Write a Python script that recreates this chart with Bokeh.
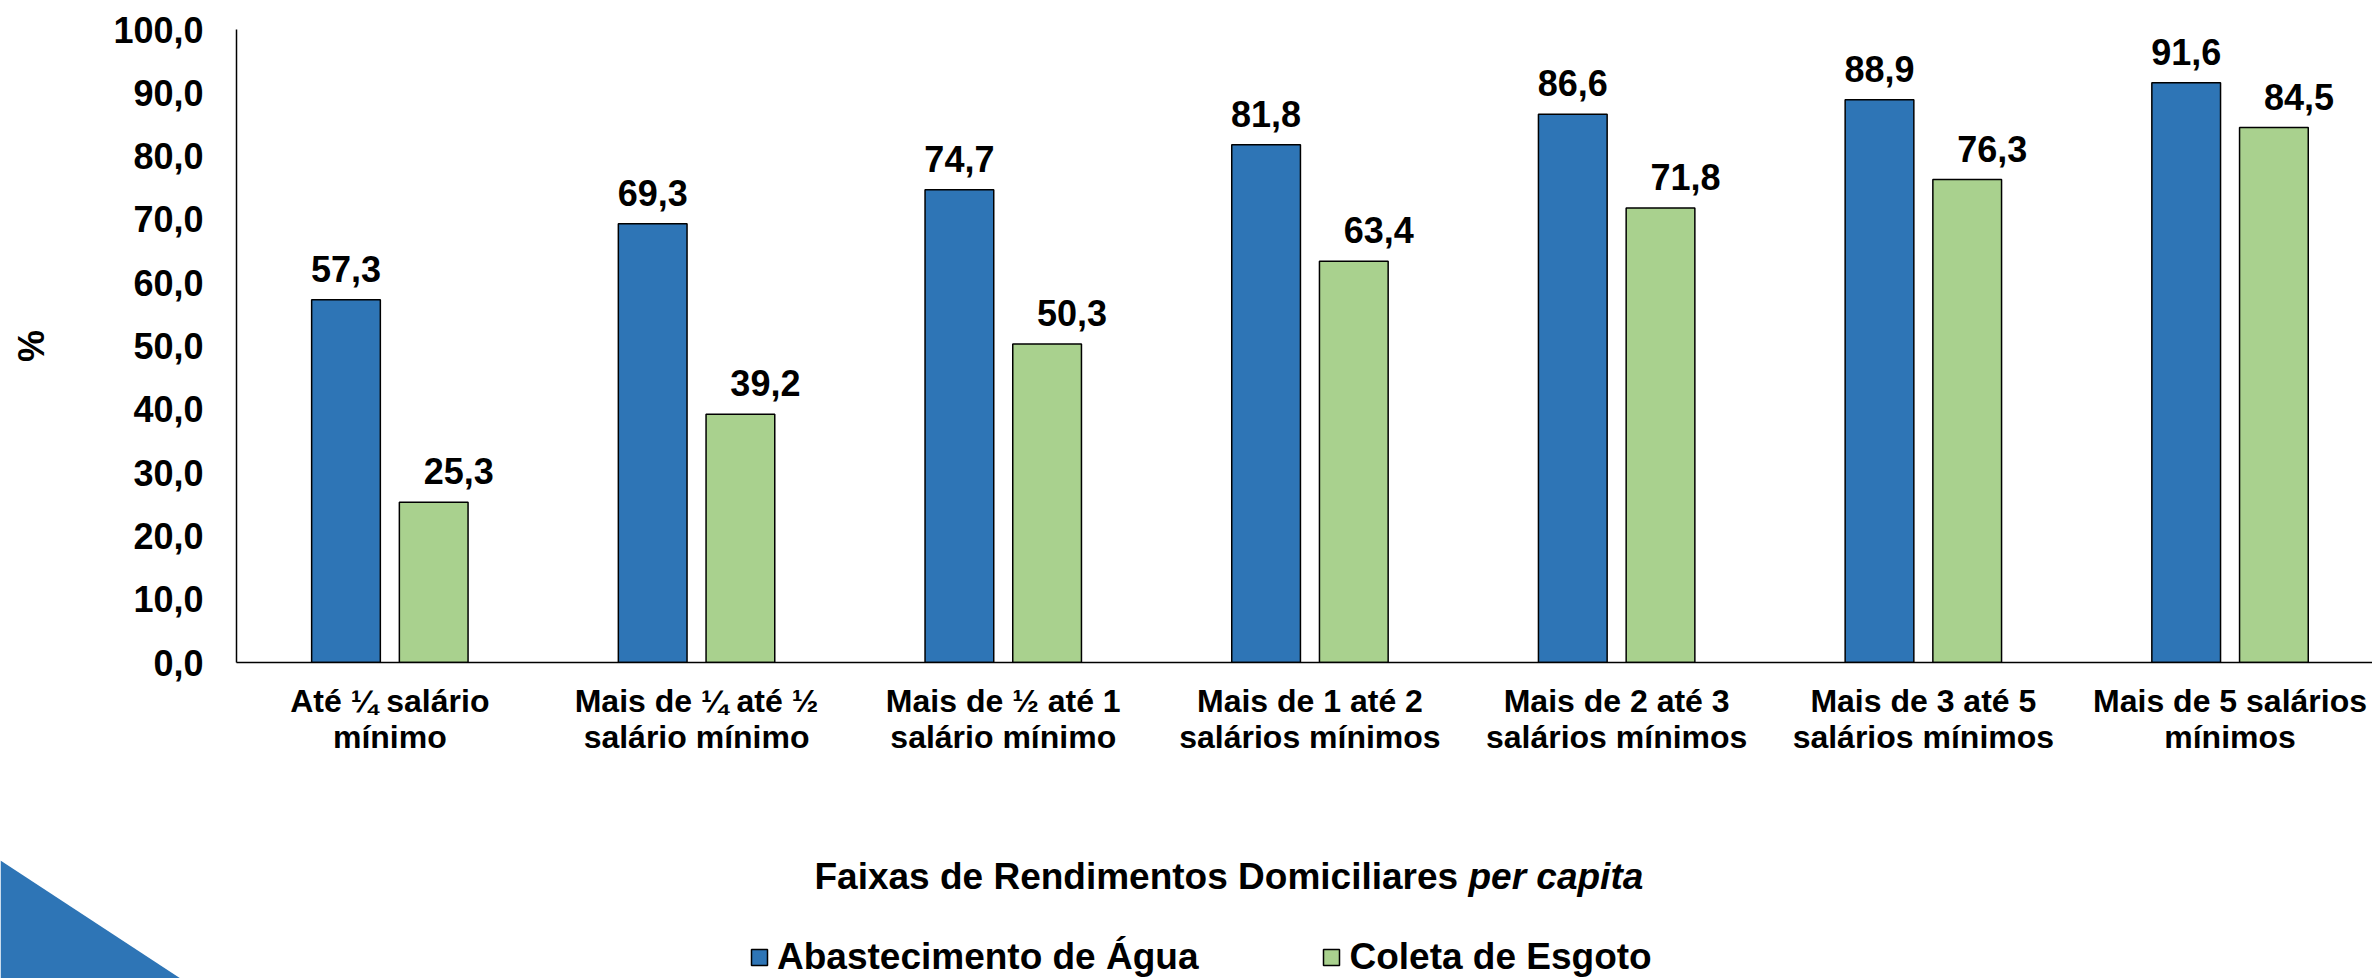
from bokeh.plotting import figure
from bokeh.layouts import column
from bokeh.models import (Range1d, FixedTicker, Label, Legend, LegendItem,
                          PolyAnnotation, ColumnDataSource)
from bokeh.core.properties import value
from bokeh.embed import file_html
from bokeh.resources import INLINE

# ---------------- data ----------------
categories = [
    "Até ¼ salário\nmínimo",
    "Mais de ¼ até ½\nsalário mínimo",
    "Mais de ½ até 1\nsalário mínimo",
    "Mais de 1 até 2\nsalários mínimos",
    "Mais de 2 até 3\nsalários mínimos",
    "Mais de 3 até 5\nsalários mínimos",
    "Mais de 5 salários\nmínimos",
]
agua = [57.3, 69.3, 74.7, 81.8, 86.6, 88.9, 91.6]
esgoto = [25.3, 39.2, 50.3, 63.4, 71.8, 76.3, 84.5]
series_names = ["Abastecimento de Água", "Coleta de Esgoto"]
y_ticks = [0, 10, 20, 30, 40, 50, 60, 70, 80, 90, 100]
x_title_main = "Faixas de Rendimentos Domiciliares "
x_title_italic = "per capita"
y_title = "%"

# ---------------- style / layout ----------------
BLUE = "#2E75B6"
GREEN = "#A9D18E"
FONT = "Liberation Sans"
W = 2372
H1, H2 = 800, 178
LEFT, TOP, BOTTOM = 236, 29, 662
GW = 306.7                      # pixel width of one category slot
PPU = (BOTTOM - TOP) / 100.0    # pixels per y unit
BAR_W = 0.224
OFF = 0.143
LABEL_GAP = 31                  # px between bar top and value label centre


def fmt(v):
    return f"{v:.1f}".replace(".", ",")


n = len(categories)
centers = [i + 0.5 for i in range(n)]
x_agua = [c - OFF for c in centers]
x_esg = [c + OFF for c in centers]

p = figure(width=W, height=H1,
           x_range=Range1d(0, (W - LEFT) / GW), y_range=Range1d(0, 100),
           output_backend="svg", toolbar_location=None,
           min_border_left=LEFT, min_border_right=0,
           min_border_top=TOP, min_border_bottom=H1 - BOTTOM)
p.frame_align = False
p.outline_line_color = None
p.grid.visible = False
p.background_fill_color = "white"
p.border_fill_color = "white"

src_a = ColumnDataSource(dict(x=x_agua, top=agua,
                              ly=[v + LABEL_GAP / PPU for v in agua],
                              lab=[fmt(v) for v in agua]))
src_e = ColumnDataSource(dict(x=x_esg, top=esgoto,
                              ly=[v + LABEL_GAP / PPU for v in esgoto],
                              lab=[fmt(v) for v in esgoto]))

r_a = p.vbar(x="x", top="top", width=BAR_W, source=src_a,
             fill_color=BLUE, line_color="black", line_width=1.5)
r_e = p.vbar(x="x", top="top", width=BAR_W, source=src_e,
             fill_color=GREEN, line_color="black", line_width=1.5)

common = dict(text_font=value(FONT), text_font_style="bold",
              text_font_size="36px", text_color="black",
              text_align="center", text_baseline="middle")
p.text(x="x", y="ly", text="lab", source=src_a, **common)
p.text(x="x", y="ly", text="lab", source=src_e, x_offset=25, **common)

# axes
xa = p.xaxis[0]
xa.ticker = FixedTicker(ticks=centers)
xa.major_label_overrides = {c: lab for c, lab in zip(centers, categories)}
xa.major_tick_out = 0
xa.major_tick_in = 0
xa.minor_tick_line_color = None
xa.axis_line_color = "black"
xa.axis_line_width = 1.5
xa.major_label_standoff = 20
xa.major_label_text_font = FONT
xa.major_label_text_font_style = "bold"
xa.major_label_text_font_size = "32px"
xa.major_label_text_color = "black"
xa.major_label_text_line_height = 1.0

ya = p.yaxis[0]
ya.ticker = FixedTicker(ticks=y_ticks)
ya.major_label_overrides = {t: fmt(t) for t in y_ticks}
ya.major_tick_out = 0
ya.major_tick_in = 0
ya.minor_tick_line_color = None
ya.axis_line_color = "black"
ya.axis_line_width = 1.5
ya.major_label_standoff = 33
ya.major_label_text_font = FONT
ya.major_label_text_font_style = "bold"
ya.major_label_text_font_size = "36px"
ya.major_label_text_color = "black"
ya.axis_label = y_title
ya.axis_label_text_font = FONT
ya.axis_label_text_font_style = "bold"
ya.axis_label_text_font_size = "36px"
ya.axis_label_text_color = "black"
ya.axis_label_standoff = 58

# ---------------- lower panel: axis title, legend, decoration ----------------
p2 = figure(width=W, height=H2, x_range=Range1d(0, W), y_range=Range1d(0, H2),
            output_backend="svg", toolbar_location=None,
            x_axis_type=None, y_axis_type=None,
            min_border_left=0, min_border_right=0,
            min_border_top=0, min_border_bottom=0)
p2.frame_align = False
p2.outline_line_color = None
p2.grid.visible = False
p2.background_fill_color = "white"
p2.border_fill_color = "white"

# decorative triangle bottom-left (panel pixels, measured from panel top)
tri_top, tri_right = 60, 180
p2.add_layout(PolyAnnotation(xs=[0, 0, tri_right],
                             ys=[H2 - tri_top, 0, 0],
                             fill_color=BLUE, fill_alpha=1.0, line_color=None))

title_x, title_mid = 814, 76
bold_w = 654
p2.add_layout(Label(x=title_x, y=H2 - title_mid, text=x_title_main,
                    text_font=FONT, text_font_style="bold",
                    text_font_size="37px", text_color="black",
                    text_baseline="middle"))
p2.add_layout(Label(x=title_x + bold_w, y=H2 - title_mid, text=x_title_italic,
                    text_font=FONT, text_font_style="bold italic",
                    text_font_size="37px", text_color="black",
                    text_baseline="middle"))

# legend proxies (same styling as the bars, not drawn themselves)
g_a = p2.vbar(x=[0], top=[0], width=1,
              fill_color=BLUE, line_color="black", line_width=1.5)
g_e = p2.vbar(x=[0], top=[0], width=1,
              fill_color=GREEN, line_color="black", line_width=1.5)
g_a.visible = False
g_e.visible = False
legend = Legend(items=[LegendItem(label=series_names[0], renderers=[g_a]),
                       LegendItem(label=series_names[1], renderers=[g_e])],
                orientation="horizontal", location=(749, 0),
                glyph_width=20, glyph_height=20, label_standoff=8,
                spacing=123, padding=0, margin=0,
                border_line_color=None, background_fill_alpha=0,
                inactive_fill_alpha=0,
                label_text_font=FONT, label_text_font_style="bold",
                label_text_font_size="37px", label_text_color="black")
p2.add_layout(legend, "center")

layout = column(p, p2, spacing=0)
open("out.html", "w").write(file_html(layout, INLINE))
